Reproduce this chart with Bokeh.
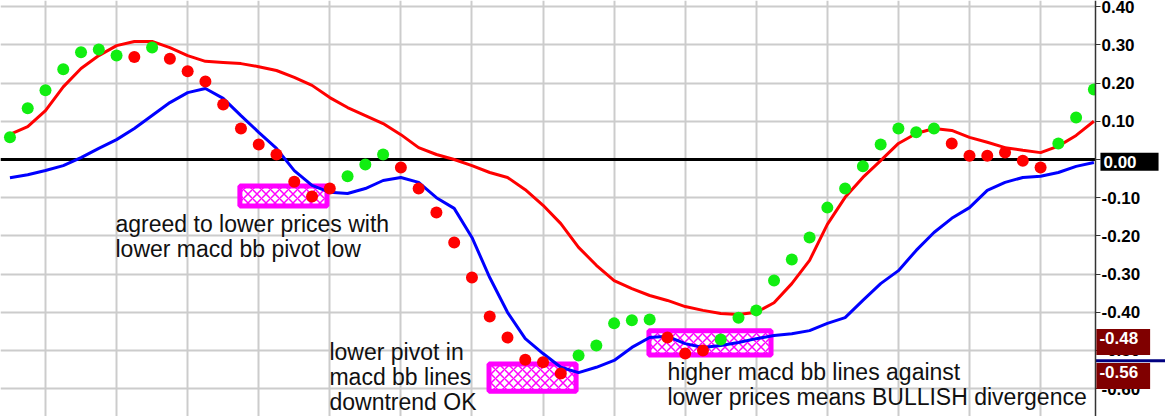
from bokeh.plotting import figure
from bokeh.models import FixedTicker, NumeralTickFormatter, Label, ColumnDataSource
from bokeh.embed import file_html
from bokeh.resources import INLINE

# ---- data ----
bars = list(range(62))
signal_line = [0.066, 0.086, 0.128, 0.190, 0.238, 0.272, 0.298, 0.309, 0.309, 0.293,
               0.272, 0.257, 0.254, 0.251, 0.243, 0.233, 0.215, 0.194, 0.162, 0.136,
               0.115, 0.094, 0.065, 0.031, 0.013, 0.000, -0.016, -0.034, -0.047, -0.079,
               -0.120, -0.168, -0.230, -0.277, -0.317, -0.338, -0.356, -0.369, -0.385, -0.395,
               -0.403, -0.406, -0.400, -0.375, -0.325, -0.264, -0.170, -0.099, -0.047, -0.003,
               0.042, 0.068, 0.081, 0.076, 0.058, 0.045, 0.031, 0.024, 0.018, 0.035,
               0.063, 0.100]
macd_line = [-0.048, -0.040, -0.029, -0.016, 0.005, 0.029, 0.052, 0.081, 0.115, 0.149,
             0.175, 0.186, 0.160, 0.115, 0.071, 0.029, -0.029, -0.068, -0.086, -0.089,
             -0.076, -0.055, -0.047, -0.060, -0.100, -0.128, -0.204, -0.309, -0.400, -0.469,
             -0.508, -0.544, -0.558, -0.544, -0.526, -0.492, -0.466, -0.463, -0.482, -0.492,
             -0.487, -0.479, -0.469, -0.461, -0.456, -0.448, -0.429, -0.414, -0.369, -0.325,
             -0.291, -0.238, -0.191, -0.154, -0.126, -0.081, -0.060, -0.047, -0.044, -0.034,
             -0.018, -0.008]
bb_dots = [0.058, 0.134, 0.181, 0.236, 0.281, 0.288, 0.272, 0.268, 0.293, 0.264,
           0.231, 0.204, 0.144, 0.081, 0.039, 0.013, -0.058, -0.097, -0.076, -0.044,
           -0.013, 0.013, -0.021, -0.076, -0.139, -0.217, -0.309, -0.411, -0.466, -0.524,
           -0.531, -0.560, -0.513, -0.487, -0.429, -0.421, -0.419, -0.466, -0.508, -0.500,
           -0.471, -0.414, -0.395, -0.317, -0.262, -0.204, -0.126, -0.076, -0.018, 0.039,
           0.081, 0.071, 0.081, 0.042, 0.010, 0.010, 0.018, -0.003, -0.021, 0.042,
           0.110, 0.183]
dot_dir = list("GGGGGGGRGRRRRRRRRRRGGGRRRRRRRRRRGGGGGRRRGGGGGGGGGGGGGRRRRRRGGG")
y_ticks = [-0.6, -0.5, -0.4, -0.3, -0.2, -0.1, 0.0, 0.1, 0.2, 0.3, 0.4]
badge_texts = ["0.00", "-0.48", "-0.56"]
marker_levels = [-0.527]

notes = [
    "agreed to lower prices with\nlower macd bb pivot low",
    "lower pivot in\nmacd bb lines\ndowntrend OK",
    "higher macd bb lines against\nlower prices means BULLISH divergence",
]

# ---- figure: frame spans the whole canvas, axis drawn at a fixed location ----
X0, X1 = -0.532, 65.03
Y0, Y1 = -0.6728, 0.4162
AXIS_X = 61.09
p = figure(width=1165, height=416, x_range=(X0, X1), y_range=(Y0, Y1),
           x_axis_location=None, y_axis_location="right",
           output_backend="svg", toolbar_location=None,
           min_border_left=0, min_border_top=0, min_border_bottom=0, min_border_right=0)
p.outline_line_color = None
p.background_fill_color = "white"
p.border_fill_color = "white"

p.xgrid.ticker = FixedTicker(ticks=list(range(2, 62, 4)))
p.yaxis.ticker = FixedTicker(ticks=y_ticks)
p.ygrid.ticker = FixedTicker(ticks=y_ticks)
for g in (p.xgrid, p.ygrid):
    g.grid_line_color = "#cccccc"
    g.grid_line_width = 2

ax = p.yaxis[0]
ax.fixed_location = AXIS_X
ax.formatter = NumeralTickFormatter(format="0.00")
ax.axis_line_color = "#333333"
ax.axis_line_width = 1.5
ax.major_tick_out = 5
ax.major_tick_in = 0
ax.major_tick_line_color = "#333333"
ax.minor_tick_line_color = None
ax.major_label_standoff = 1
ax.major_label_text_font = "Liberation Sans"
ax.major_label_text_font_style = "bold"
ax.major_label_text_font_size = "17px"
ax.major_label_text_color = "black"

# highlight boxes (annotation positions)
boxes = ColumnDataSource(dict(left=[12.94, 26.96, 35.96], right=[17.84, 31.86, 42.83],
                              top=[-0.0695, -0.5355, -0.4485], bottom=[-0.1215, -0.6065, -0.5115]))
p.quad(left="left", right="right", top="top", bottom="bottom", source=boxes,
       fill_color="white", line_color="#ff00ff", line_width=5,
       hatch_pattern="diagonal_cross", hatch_color="#ff00ff", hatch_scale=9, hatch_weight=1.5)

p.hspan(y=[0], line_color="black", line_width=3)

p.line(bars, signal_line, line_color="#ff0000", line_width=3)
p.line(bars, macd_line, line_color="#0000ff", line_width=3)

colors = ["#11ee11" if d == "G" else "#ff0000" for d in dot_dir]
p.scatter(bars, bb_dots, size=12, fill_color=colors, line_color=None)

# white panel behind the price axis
p.quad(left=[AXIS_X], right=[X1], bottom=[Y0], top=[Y1], fill_color="white", line_color=None)
p.segment(x0=[AXIS_X] * len(marker_levels), x1=[X1] * len(marker_levels),
          y0=marker_levels, y1=marker_levels, line_color="#000080", line_width=3)

# notes
note_pos = [(5.94, -0.134), (17.98, -0.469), (37.0, -0.521)]
for (nx, ny), t in zip(note_pos, notes):
    p.add_layout(Label(x=nx, y=ny, text=t, text_font="Liberation Sans",
                       text_font_size="23px", text_color="#111111",
                       text_baseline="top", text_align="left", text_line_height=0.97))

# price badges on the axis (x = box left edge)
badge_colors = ["black", "#800000", "#800000"]
badge_pos = [(61.37, -0.006), (61.14, -0.478), (61.14, -0.567)]
badge_pad = [(3, 22, 3, 3), (3, 12, 3, 11), (3, 12, 3, 11)]
for (bx, by), bt, bc, pad in zip(badge_pos, badge_texts, badge_colors, badge_pad):
    p.add_layout(Label(x=bx, y=by, text=bt, text_font="Liberation Sans",
                       text_font_style="bold", text_font_size="17px", text_color="white",
                       text_baseline="middle", text_align="left",
                       background_fill_color=bc, padding=pad))

open("out.html", "w").write(file_html(p, INLINE))
